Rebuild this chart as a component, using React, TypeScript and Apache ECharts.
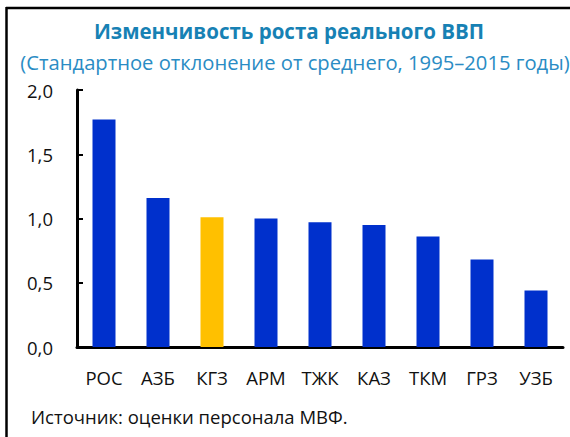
import React, { useEffect, useRef } from "react";
import * as echarts from "echarts";

const categories = ["РОС", "АЗБ", "КГЗ", "АРМ", "ТЖК", "КАЗ", "ТКМ", "ГРЗ", "УЗБ"];
const values = [1.77, 1.16, 1.01, 1.0, 0.97, 0.95, 0.86, 0.68, 0.44];
const highlight = "КГЗ";
const titleText = "Изменчивость роста реального ВВП";
const subtitleText = "(Стандартное отклонение от среднего, 1995–2015 годы)";
const sourceText = "Источник: оценки персонала МВФ.";

const FONT = "'Open Sans', 'Noto Sans', sans-serif";

export default function App() {
  const ref = useRef<HTMLDivElement>(null);
  useEffect(() => {
    if (!ref.current) return;
    const chart = echarts.init(ref.current, null, { renderer: "svg" });
    chart.setOption({
      animation: false,
      backgroundColor: "#fff",
      title: [
        {
          text: titleText,
          left: 284,
          top: 15,
          textAlign: "center",
          textStyle: { fontFamily: FONT, fontSize: 20.5, fontWeight: "bold", color: "#1781B4" },
        },
        {
          text: subtitleText,
          left: 290,
          top: 47,
          textAlign: "center",
          textStyle: { fontFamily: FONT, fontSize: 20.2, fontWeight: "normal", color: "#2A8CC4" },
        },
        {
          text: sourceText,
          left: 26,
          top: 402,
          textStyle: { fontFamily: FONT, fontSize: 18.5, fontWeight: "normal", color: "#111" },
        },
      ],
      graphic: [
        { type: "line", shape: { x1: 6, y1: 8, x2: 570, y2: 8 }, style: { stroke: "#000", lineWidth: 2.5 } },
        { type: "line", shape: { x1: 6.5, y1: 7, x2: 6.5, y2: 437 }, style: { stroke: "#000", lineWidth: 2.5 } },
      ],
      grid: { left: 77, right: 7, top: 90, bottom: 90, containLabel: false },
      xAxis: {
        type: "category",
        data: categories,
        axisLine: { lineStyle: { color: "#000", width: 3 } },
        axisTick: { inside: true, length: 6, lineStyle: { color: "#000", width: 2 } },
        axisLabel: { fontFamily: FONT, fontSize: 18.5, color: "#111", margin: 21 },
      },
      yAxis: {
        type: "value",
        min: 0,
        max: 2,
        interval: 0.5,
        axisLine: { show: true, lineStyle: { color: "#000", width: 3 } },
        axisTick: { show: true, inside: true, length: 6, lineStyle: { color: "#000", width: 2 } },
        splitLine: { show: false },
        axisLabel: {
          fontFamily: FONT,
          fontSize: 18.5,
          color: "#111",
          margin: 24,
          formatter: (v: number) => v.toFixed(1).replace(".", ","),
        },
      },
      series: [
        {
          type: "bar",
          barWidth: 23,
          data: values.map((v, i) => ({
            value: v,
            itemStyle: { color: categories[i] === highlight ? "#FFC000" : "#0030CC" },
          })),
        },
      ],
    });
    return () => chart.dispose();
  }, []);
  return <div ref={ref} style={{ width: 570, height: 437, position: "absolute", left: 0, top: 0 }} />;
}
